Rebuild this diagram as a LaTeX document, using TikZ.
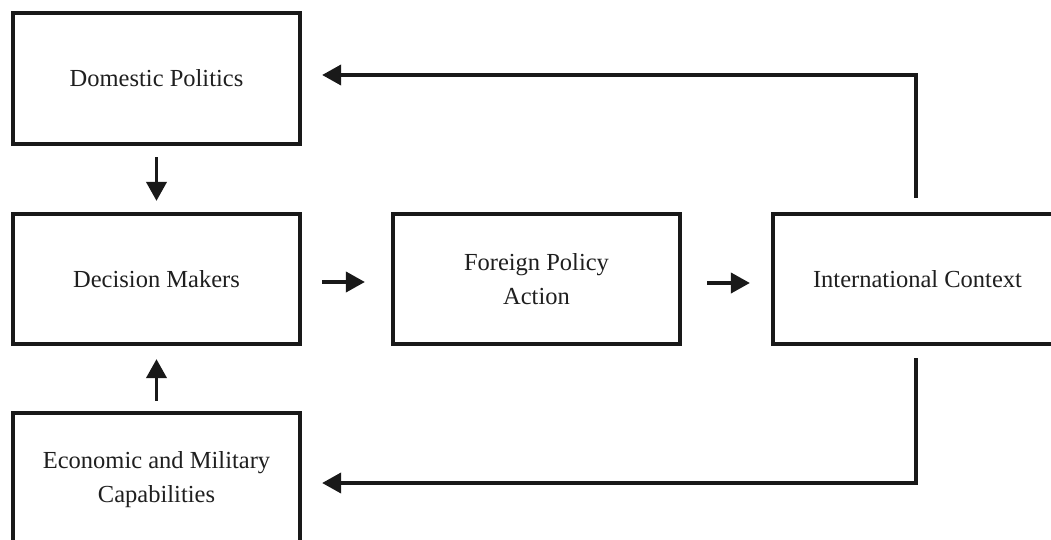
\documentclass[tikz,border=0pt]{standalone}
\usepackage{fontspec}
\setmainfont{Liberation Serif}
\usetikzlibrary{arrows.meta}
\tikzset{
  boxnode/.style={draw=black!90, line width=4.2pt, rectangle, inner sep=0pt,
    align=center, font=\fontsize{24.5}{34}\selectfont, text=black!88},
  arr/.style={draw=black!90, line width=3.8pt, -{Triangle[length=19pt,width=20pt]}},
  loopline/.style={draw=black!90, line width=3.8pt, -{Triangle[length=19pt,width=20pt]}}
}
\begin{document}
\begin{tikzpicture}[x=1pt,y=-1pt]
\useasboundingbox (0,0) rectangle (1051,540);
\fill[white] (0,0) rectangle (1051,540);
\clip (0,0) rectangle (1051,540);
\node[boxnode, minimum width=287pt, minimum height=131pt] (dom) at (156.5,78.5) {Domestic Politics};
\node[boxnode, minimum width=287pt, minimum height=130pt] (dec) at (156.5,279) {Decision Makers};
\node[boxnode, minimum width=287pt, minimum height=134pt] (eco) at (156.5,480) {Economic and Military\\Capabilities};
\node[boxnode, minimum width=287pt, minimum height=130pt] (fpa) at (536.5,279) {Foreign Policy\\Action};
\node[boxnode, minimum width=289pt, minimum height=130pt] (int) at (917.5,279) {International Context};
\draw[arr] ([yshift=-11pt]dom.south) -- ([yshift=11pt]dec.north);
\draw[arr] ([yshift=10pt]eco.north) -- ([yshift=-13pt]dec.south);
\draw[arr] ([xshift=20pt,yshift=-3pt]dec.east) -- ([xshift=-26pt,yshift=-3pt]fpa.west);
\draw[arr] ([xshift=25pt,yshift=-4pt]fpa.east) -- ([xshift=-21pt,yshift=-4pt]int.west);
\draw[loopline] ([xshift=-1.5pt,yshift=14pt]int.north) |- ([xshift=20pt,yshift=3.5pt]dom.east);
\draw[loopline] ([xshift=-1.5pt,yshift=-12pt]int.south) |- ([xshift=20pt,yshift=-3pt]eco.east);
\end{tikzpicture}
\end{document}
